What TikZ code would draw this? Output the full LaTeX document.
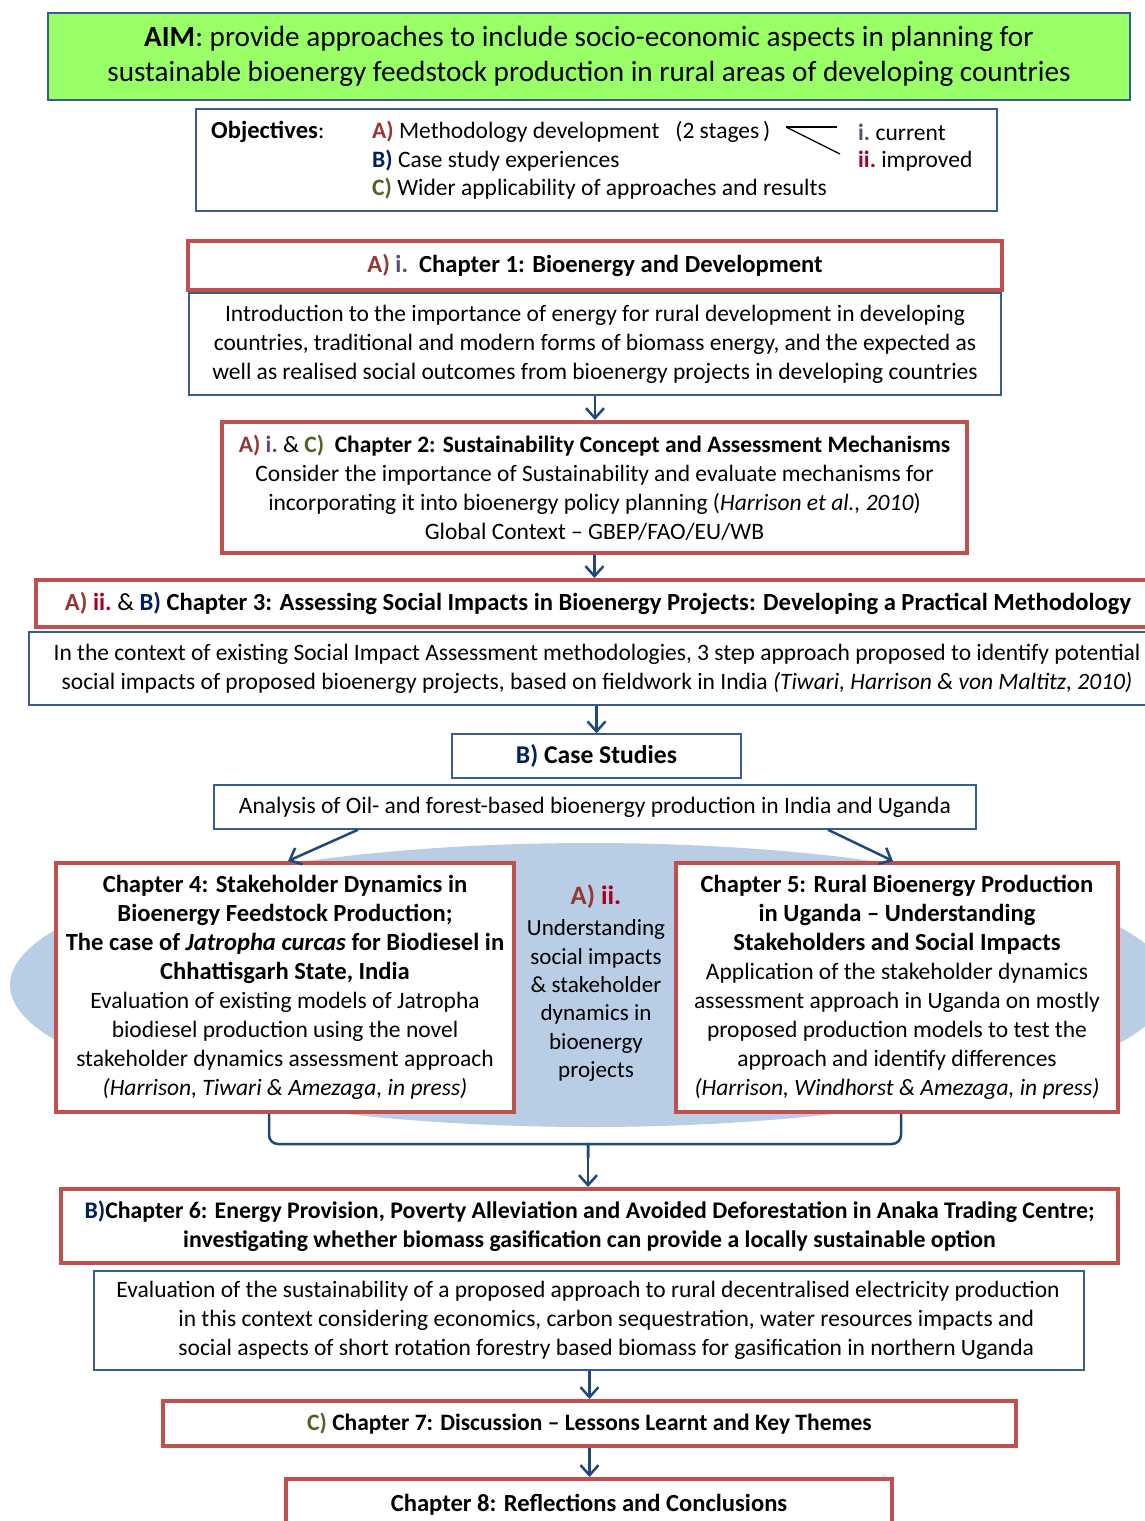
\documentclass[tikz,border=0pt]{standalone}
\usepackage{fontspec}
\setmainfont{Carlito}
\usepackage{xcolor}
\usepackage{tikz}
\usetikzlibrary{arrows.meta, positioning, shapes.geometric}

\definecolor{boxred}{HTML}{C0504D}
\definecolor{boxblue}{HTML}{385D8A}
\definecolor{arrowblue}{HTML}{1F497D}
\definecolor{aimgreen}{HTML}{99FF66}
\definecolor{ellblue}{HTML}{B9CDE5}
\definecolor{objA}{HTML}{953735}
\definecolor{obji}{HTML}{5F497A}
\definecolor{objii}{HTML}{A50021}
\definecolor{objB}{HTML}{002060}
\definecolor{objC}{HTML}{4F6228}

\newcommand{\bodyfont}{\fontsize{23.5}{29}\selectfont}
\newcommand{\headfont}{\fontsize{24.6}{29}\selectfont}
\newcommand{\aimfont}{\fontsize{29.2}{35}\selectfont}
\newcommand{\oA}{\textbf{\textcolor{objA}{A)}}}
\newcommand{\oB}{\textbf{\textcolor{objB}{B)}}}
\newcommand{\oC}{\textbf{\textcolor{objC}{C)}}}
\newcommand{\oi}{\textbf{\textcolor{obji}{i.}}}
\newcommand{\oii}{\textbf{\textcolor{objii}{ii.}}}

\begin{document}
\begin{tikzpicture}[x=1pt, y=-1pt, font=\bodyfont,
    redbox/.style={draw=boxred, line width=4pt, fill=white, align=center, inner sep=0pt},
    bluebox/.style={draw=boxblue, line width=1.5pt, fill=white, align=center, inner sep=0pt},
    arr/.style={draw=arrowblue, line width=2.5pt, -{Straight Barb[length=10pt, width=18pt]}},
    conn/.style={draw=arrowblue, line width=2.5pt},
    txt/.style={inner sep=0pt}]
    \useasboundingbox[fill=white] (0,0) rectangle (1145,1521);
    % Aim
    \node[draw=boxblue, line width=1.5pt, fill=aimgreen, minimum width=1082pt, minimum height=87pt,
          align=center, font=\aimfont] (aim) at (589,56.5)
        {\textbf{AIM}: provide approaches to include socio-economic aspects in planning for\\
         sustainable bioenergy feedstock production in rural areas of developing countries};
    % Objectives
    \node[bluebox, minimum width=801pt, minimum height=102pt] (obj) at (596.5,160) {};
    \node[txt, anchor=west] (objlbl) at (211,132) {\textbf{\headfont Objectives}:};
    \node[txt, anchor=west] (objA) at (372,132) {\oA\ Methodology development \ \ (2 stages\,)};
    \node[txt, anchor=west] (objB) at (372,161) {\oB\ Case study experiences};
    \node[txt, anchor=west] (objC) at (372,189) {\oC\ Wider applicability of approaches and results};
    \node[txt, anchor=west] (stI) at (858,132) {\oi\ current};
    \node[txt, anchor=west] (stII) at (858,161) {\oii\ improved};
    \coordinate (fork) at (786,127);
    \draw[line width=1.2pt] (fork) -- (837,127);
    \draw[line width=1.2pt] (fork) -- (840,154);
    % Chapter 1
    \node[redbox, minimum width=814pt, minimum height=49pt, font=\headfont] (ch1) at (595,265.5)
        {\oA\ \oi\ \ \textbf{Chapter 1: Bioenergy and Development}};
    \node[bluebox, minimum width=812pt, minimum height=102pt] (ch1d) at (595,344)
        {Introduction to the importance of energy for rural development in developing\\
         countries, traditional and modern forms of biomass energy, and the expected as\\
         well as realised social outcomes from bioenergy projects in developing countries};
    % Chapter 2
    \node[redbox, minimum width=745pt, minimum height=131pt] (ch2) at (594.5,487.5)
        {\oA\ \oi\ \& \oC\ \ \textbf{Chapter 2: Sustainability Concept and Assessment Mechanisms}\\
         Consider the importance of Sustainability and evaluate mechanisms for\\
         incorporating it into bioenergy policy planning (\textit{Harrison et al., 2010})\\
         Global Context -- GBEP/FAO/EU/WB};
    % Chapter 3
    \node[redbox, minimum width=1124pt, minimum height=47pt, font=\headfont] (ch3) at (598,603.5)
        {\oA\ \oii\ \& \oB\ \textbf{Chapter 3: Assessing Social Impacts in Bioenergy Projects: Developing a Practical Methodology}};
    \node[bluebox, minimum width=1136pt, minimum height=73pt] (ch3d) at (597,668.5)
        {In the context of existing Social Impact Assessment methodologies, 3 step approach proposed to identify potential\\
         social impacts of proposed bioenergy projects, based on fieldwork in India \textit{(Tiwari, Harrison \& von Maltitz, 2010)}};
    % Case studies
    \node[bluebox, minimum width=289pt, minimum height=44pt, font=\fontsize{25.6}{29}\selectfont] (cases) at (596.5,756)
        {\oB\ \textbf{Case Studies}};
    \node[bluebox, minimum width=762pt, minimum height=44pt] (anal) at (595,807)
        {Analysis of Oil- and forest-based bioenergy production in India and Uganda};
    % Background ellipse
    \node[ellipse, fill=ellblue, minimum width=1160pt, minimum height=284pt, inner sep=0pt] (bg) at (590,985) {};
    % Chapter 4 and 5
    \node[redbox, minimum width=458pt, minimum height=249pt] (ch4) at (285,987.5)
        {\textbf{\headfont Chapter 4: Stakeholder Dynamics in}\\
         \textbf{\headfont Bioenergy Feedstock Production;}\\
         \textbf{\headfont The case of \textit{Jatropha curcas} for Biodiesel in}\\
         \textbf{\headfont Chhattisgarh State, India}\\
         Evaluation of existing models of Jatropha\\
         biodiesel production using the novel\\
         stakeholder dynamics assessment approach\\
         \textit{(Harrison, Tiwari \& Amezaga, in press)}};
    \node[redbox, minimum width=442pt, minimum height=249pt] (ch5) at (897,987.5)
        {\textbf{\headfont Chapter 5: Rural Bioenergy Production}\\
         \textbf{\headfont in Uganda -- Understanding}\\
         \textbf{\headfont Stakeholders and Social Impacts}\\
         Application of the stakeholder dynamics\\
         assessment approach in Uganda on mostly\\
         proposed production models to test the\\
         approach and identify differences\\
         \textit{(Harrison, Windhorst \& Amezaga, in press)}};
    \node[txt, font=\fontsize{26.6}{29}\selectfont] (midA) at (596,897) {\oA\ \oii};
    \node[txt, align=center, font=\fontsize{23.1}{28.3}\selectfont] (midtxt) at (596,1000.5)
        {Understanding\\ social impacts\\ \& stakeholder\\ dynamics in\\ bioenergy\\ projects};
    % Chapter 6
    \node[redbox, minimum width=1057pt, minimum height=74pt, font=\fontsize{23.8}{29}\selectfont] (ch6) at (589.5,1226)
        {\oB\textbf{Chapter 6: Energy Provision, Poverty Alleviation and Avoided Deforestation in Anaka Trading Centre;}\\
         \textbf{investigating whether biomass gasification can provide a locally sustainable option}};
    \node[bluebox, minimum width=990pt, minimum height=99pt] (ch6d) at (589,1320.5) {};
    \node[txt, anchor=west, align=left] (ch6t) at ([xshift=85pt]ch6d.west)
        {\hspace*{-62pt}Evaluation of the sustainability of a proposed approach to rural decentralised electricity production\\
         in this context considering economics, carbon sequestration, water resources impacts and\\
         social aspects of short rotation forestry based biomass for gasification in northern Uganda};
    % Chapter 7 and 8
    \node[redbox, minimum width=853pt, minimum height=45pt] (ch7) at (589.5,1423.5)
        {\oC\ \textbf{Chapter 7: Discussion -- Lessons Learnt and Key Themes}};
    \node[redbox, minimum width=606pt, minimum height=52pt, font=\headfont] (ch8) at (589,1505)
        {\textbf{Chapter 8: Reflections and Conclusions}};
    % Arrows
    \draw[arr] (ch1d.south) -- (ch1d.south |- ch2.north);
    \draw[arr] (ch2.south) -- (ch2.south |- ch3.north);
    \draw[arr] (ch3d.south -| cases) -- (cases.north);
    \draw[arr] ([xshift=-237pt]anal.south) -- ([xshift=3pt]ch4.north);
    \draw[arr] ([xshift=233pt]anal.south) -- ([xshift=-4pt]ch5.north);
    % Bracket
    \coordinate (bl) at ([xshift=-16pt]ch4.south);
    \coordinate (br) at ([xshift=4pt]ch5.south);
    \coordinate (bm) at (588,1158);
    \draw[conn, rounded corners=9pt] (bl) -- (bl |- 0,1144) -- (579,1144) .. controls (588,1144) .. (bm);
    \draw[conn, rounded corners=9pt] (br) -- (br |- 0,1144) -- (597,1144) .. controls (588,1144) .. (bm);
    \draw[arr] (bm) -- (bm |- ch6.north);
    \draw[arr] (ch6d.south -| ch7) -- (ch7.north);
    \draw[arr] (ch7.south) -- (ch7.south |- ch8.north);
\end{tikzpicture}
\end{document}
